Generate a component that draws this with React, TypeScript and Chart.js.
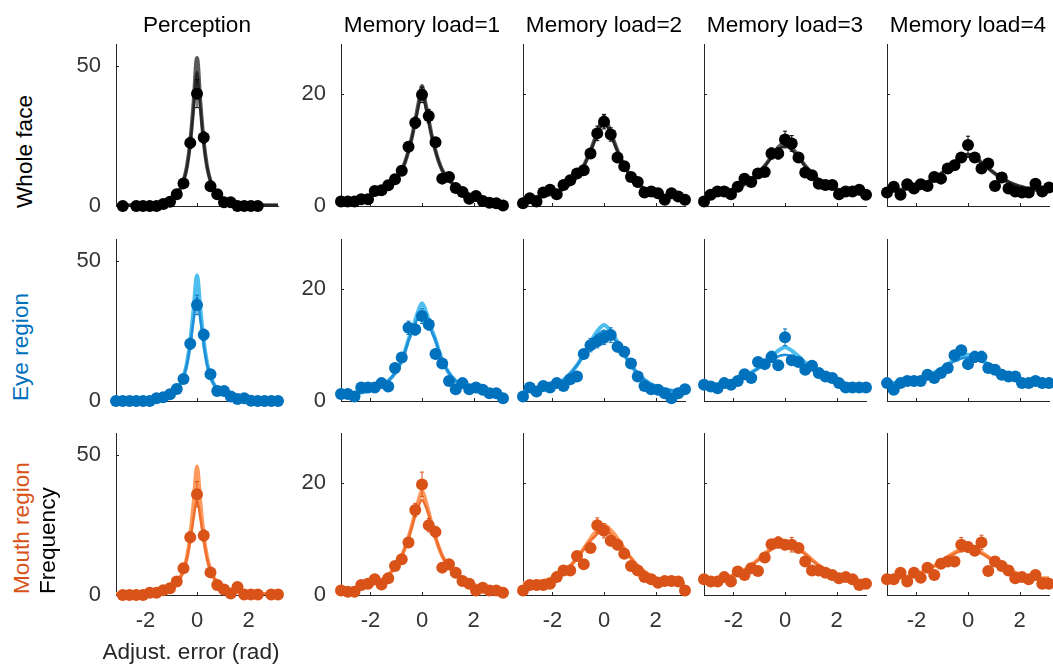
import React, { useEffect, useRef } from "react";
import { Chart, registerables } from "chart.js";
Chart.register(...registerables);

const FONT = '"Liberation Sans", Arial, Helvetica, sans-serif';
const AXIS_COLOR = "#262626";
const TICK_COLOR = "#333333";

const COLUMN_TITLES = ["Perception", "Memory load=1", "Memory load=2", "Memory load=3", "Memory load=4"];
const ROW_LABELS = ["Whole face", "Eye region", "Mouth region"];
const Y_LABEL = "Frequency";
const X_LABEL = "Adjust. error (rad)";

const X_MIN = -3.1416;
const X_MAX = 3.1416;
const X_TICKS = [-2, 0, 2];
const Y_TICKS_PERCEPTION = [0, 50];
const Y_TICKS_MEMORY = [0, 20];
const Y_MAX_PERCEPTION = 58;
const Y_MAX_MEMORY = 29;

// bin centres of the error histogram (rad)
const BIN_X = [-3.1416, -2.8798, -2.618, -2.3562, -2.0944, -1.8326, -1.5708, -1.309, -1.0472, -0.7854, -0.5236, -0.2618, 0,
  0.2618, 0.5236, 0.7854, 1.0472, 1.309, 1.5708, 1.8326, 2.0944, 2.3562, 2.618, 2.8798, 3.1416];
// x positions where the fitted curves were read
const CURVE_X = [-3.1416, -2.8798, -2.618, -2.3562, -2.0944, -1.8326, -1.5708, -1.309, -1.0472, -0.7854, -0.6545, -0.5236, -0.3927, -0.2618, -0.1309, 0,
  0.1309, 0.2618, 0.3927, 0.5236, 0.6545, 0.7854, 1.0472, 1.309, 1.5708, 1.8326, 2.0944, 2.3562, 2.618, 2.8798, 3.1416];

// ---- Whole face ----
const WF_PER = [null, 0, null, 0, 0, 0, 0, 0.7, 1.5, 4.2, 8.1, 22.6, 40.2, 24.5, 7.1, 4.2, 1.3, 1.3, 0, 0, 0, 0, null, null, null];
const WF_M1 = [0.8, 0.8, 0.8, 1.2, 1.2, 2.7, 2.8, 3.7, 4.8, 6.3, 10.6, 14.9, 19.9, 16.1, 11.4, 4.9, 5.2, 3.2, 2.5, 1.3, 1.8, 0.9, 0.6, 0.5, 0.1];
const WF_M2 = [0.5, 1.4, 0.8, 2.4, 2.9, 2.1, 3.75, 4.6, 5.8, 6.4, 9.4, 13, 15.1, 12.8, 8.7, 7.1, 5.2, 4.3, 2.4, 2.6, 2.3, 1.1, 2.3, 1.7, 1.1];
const WF_M3 = [0.8, 2.0, 2.6, 2.6, 2.1, 3.45, 4.9, 4.3, 5.8, 6.1, 9.4, 9.4, 11.9, 11.2, 8.7, 6.0, 5.5, 4.0, 3.75, 3.75, 2.1, 2.6, 2.6, 2.9, 2.0];
const WF_M4 = [2.4, 3.45, 2.0, 3.9, 3.15, 3.9, 3.6, 5.2, 4.9, 6.7, 7.3, 8.7, 10.9, 8.7, 6.7, 7.6, 3.6, 5.1, 3.15, 2.6, 2.4, 2.4, 4.0, 2.6, 3.3];
const WF_PER_ERR = [0, 0.3, 0, 0.3, 0.3, 0.3, 0.3, 0.4, 0.5, 0.8, 1.2, 2.0, 5.0, 2.0, 1.0, 0.7, 0.5, 0.5, 0.3, 0.3, 0.3, 0.3, 0, 0, 0];
const WF_M1_ERR = [0.3, 0.3, 0.3, 0.3, 0.3, 0.4, 0.4, 0.4, 0.5, 0.6, 0.8, 1.0, 1.4, 1.2, 0.8, 0.5, 0.5, 0.4, 0.4, 0.3, 0.3, 0.3, 0.3, 0.3, 0.3];
const WF_M2_ERR = [0.3, 0.4, 0.3, 0.4, 0.4, 0.4, 0.5, 0.5, 0.6, 0.7, 0.9, 1.3, 1.3, 1.2, 0.8, 0.7, 0.6, 0.5, 0.4, 0.4, 0.4, 0.3, 0.4, 0.3, 0.3];
const WF_M3_ERR = [0.3, 0.4, 0.4, 0.4, 0.4, 0.5, 0.6, 0.5, 0.6, 0.7, 1.0, 1.0, 1.5, 1.4, 0.8, 0.6, 0.6, 0.5, 0.5, 0.5, 0.4, 0.4, 0.4, 0.4, 0.4];
const WF_M4_ERR = [0.4, 0.5, 0.4, 0.5, 0.5, 0.5, 0.5, 0.6, 0.6, 0.7, 0.7, 0.8, 1.6, 0.8, 0.7, 0.7, 0.5, 0.6, 0.5, 0.4, 0.4, 0.4, 0.5, 0.4, 0.5];
const WF_PER_FIT_A = [0.3, 0.3, 0.3, 0.4, 0.5, 0.7, 1.0, 1.5, 2.4, 4.3, 6, 9, 14, 23, 37, 53, 37, 23, 14, 9, 6, 4.3, 2.4, 1.5, 1.0, 0.7, 0.5, 0.4, 0.3, 0.3, 0.3];
const WF_PER_FIT_B = [0.3, 0.3, 0.3, 0.4, 0.5, 0.7, 1.0, 1.5, 2.4, 4.3, 6, 8.9, 13.8, 22.5, 35, 48, 35, 22.5, 13.8, 8.9, 6, 4.3, 2.4, 1.5, 1.0, 0.7, 0.5, 0.4, 0.3, 0.3, 0.3];
const WF_M1_FIT_A = [0.7, 0.8, 1.0, 1.3, 1.7, 2.1, 2.7, 3.5, 4.6, 6.4, 7.9, 9.9, 12.3, 15.3, 18.5, 21.5, 18.5, 15.3, 12.3, 9.9, 7.9, 6.4, 4.6, 3.5, 2.7, 2.1, 1.7, 1.3, 1.0, 0.8, 0.7];
const WF_M1_FIT_B = [0.7, 0.8, 1.0, 1.3, 1.7, 2.1, 2.7, 3.5, 4.6, 6.4, 7.9, 9.8, 12.2, 15, 18, 20.5, 18, 15, 12.2, 9.8, 7.9, 6.4, 4.6, 3.5, 2.7, 2.1, 1.7, 1.3, 1.0, 0.8, 0.7];
const WF_M2_FIT_A = [1.4, 1.5, 1.6, 1.8, 2.1, 2.5, 3.1, 4.0, 5.3, 7.2, 8.5, 9.9, 11.5, 13.2, 14.8, 16, 14.8, 13.2, 11.5, 9.9, 8.5, 7.2, 5.3, 4.0, 3.1, 2.5, 2.1, 1.8, 1.6, 1.5, 1.4];
const WF_M2_FIT_B = [1.4, 1.5, 1.6, 1.8, 2.1, 2.5, 3.1, 4.0, 5.3, 7.1, 8.4, 9.8, 11.3, 12.8, 14.1, 15, 14.1, 12.8, 11.3, 9.8, 8.4, 7.1, 5.3, 4.0, 3.1, 2.5, 2.1, 1.8, 1.6, 1.5, 1.4];
const WF_M3_FIT_A = [2.3, 2.3, 2.4, 2.6, 2.9, 3.3, 3.9, 4.7, 5.8, 7.2, 8.0, 8.9, 9.7, 10.5, 11.1, 11.5, 11.1, 10.5, 9.7, 8.9, 8.0, 7.2, 5.8, 4.7, 3.9, 3.3, 2.9, 2.6, 2.4, 2.3, 2.3];
const WF_M3_FIT_B = [2.3, 2.3, 2.4, 2.6, 2.9, 3.3, 3.9, 4.7, 5.8, 7.1, 7.9, 8.7, 9.4, 10.0, 10.5, 10.8, 10.5, 10.0, 9.4, 8.7, 7.9, 7.1, 5.8, 4.7, 3.9, 3.3, 2.9, 2.6, 2.4, 2.3, 2.3];
const WF_M4_FIT_A = [2.8, 2.8, 2.9, 3.1, 3.4, 3.8, 4.3, 5.0, 5.8, 6.8, 7.3, 7.8, 8.3, 8.7, 9.0, 9.2, 9.0, 8.7, 8.3, 7.8, 7.3, 6.8, 5.8, 5.0, 4.3, 3.8, 3.4, 3.1, 2.9, 2.8, 2.8];
const WF_M4_FIT_B = [2.8, 2.8, 2.9, 3.1, 3.4, 3.8, 4.3, 5.0, 5.8, 6.7, 7.2, 7.7, 8.1, 8.4, 8.7, 8.8, 8.7, 8.4, 8.1, 7.7, 7.2, 6.7, 5.8, 5.0, 4.3, 3.8, 3.4, 3.1, 2.9, 2.8, 2.8];

// ---- Eye region ----
const EYE_PER = [0, 0, 0, 0, 0, 0, 1.0, 1.3, 2.4, 4.3, 7.9, 20.5, 34.4, 23.7, 9.6, 3.6, 3.6, 1.6, 0.7, 1.0, 0.1, 0, 0, 0, 0];
const EYE_M1 = [1.25, 1.25, 0.8, 2.4, 2.4, 2.4, 3.2, 2.6, 5.9, 7.8, 13.1, 12.8, 15.2, 13.7, 8.4, 6.7, 3.6, 2.1, 3.2, 2.1, 2.4, 2.0, 1.4, 1.4, 0.5];
const EYE_M2 = [0.8, 2.4, 1.7, 2.7, 2.4, 3.2, 2.7, 3.9, 4.4, 8.4, 10.0, 10.7, 11.3, 11.8, 9.7, 8.8, 6.7, 4.4, 2.7, 2.1, 2.0, 1.4, 0.5, 1.4, 2.1];
const EYE_M3 = [2.9, 2.6, 2.3, 3.2, 2.9, 3.6, 4.8, 4.1, 7.0, 6.6, 7.9, 6.4, 11.4, 7.3, 7.0, 5.6, 6.3, 5.0, 4.4, 4.1, 3.2, 2.4, 2.4, 2.4, 2.4];
const EYE_M4 = [3.2, 2.0, 3.2, 3.6, 3.6, 3.6, 4.7, 4.1, 5.0, 5.9, 8.2, 9.1, 6.6, 7.9, 7.9, 5.9, 5.6, 4.7, 4.4, 4.4, 3.2, 3.2, 3.6, 3.2, 3.2];
const EYE_PER_ERR = [0, 0, 0, 0, 0, 0, 0.3, 0.3, 0.4, 0.6, 1.0, 2.0, 3.5, 2.0, 1.0, 0.6, 0.6, 0.4, 0.3, 0.3, 0.2, 0, 0, 0, 0];
const EYE_M1_ERR = [0.3, 0.3, 0.3, 0.4, 0.4, 0.4, 0.5, 0.4, 0.6, 0.8, 1.2, 1.0, 1.3, 1.0, 0.8, 0.6, 0.5, 0.4, 0.5, 0.4, 0.4, 0.4, 0.3, 0.3, 0.3];
const EYE_M2_ERR = [0.3, 0.5, 0.4, 0.4, 0.4, 0.5, 0.4, 0.5, 0.6, 0.8, 1.2, 1.2, 1.2, 1.3, 0.9, 0.8, 0.7, 0.5, 0.4, 0.4, 0.4, 0.3, 0.3, 0.3, 0.4];
const EYE_M3_ERR = [0.4, 0.4, 0.4, 0.5, 0.4, 0.5, 0.6, 0.5, 0.7, 0.7, 1.0, 0.7, 1.5, 0.8, 0.7, 0.6, 0.6, 0.6, 0.5, 0.5, 0.4, 0.4, 0.4, 0.4, 0.4];
const EYE_M4_ERR = [0.4, 0.4, 0.4, 0.5, 0.5, 0.5, 0.5, 0.5, 0.6, 0.6, 0.8, 0.8, 0.7, 1.0, 1.0, 0.6, 0.6, 0.6, 0.5, 0.5, 0.4, 0.4, 0.5, 0.4, 0.4];
const EYE_PER_FIT_A = [0.3, 0.3, 0.3, 0.4, 0.5, 0.7, 1.0, 1.5, 2.4, 4.3, 6.0, 8.8, 13.5, 21.5, 33, 45, 33, 21.5, 13.5, 8.8, 6.0, 4.3, 2.4, 1.5, 1.0, 0.7, 0.5, 0.4, 0.3, 0.3, 0.3];
const EYE_PER_FIT_B = [0.3, 0.3, 0.3, 0.4, 0.5, 0.7, 1.0, 1.5, 2.4, 4.3, 6.0, 8.6, 13, 20, 29, 37, 29, 20, 13, 8.6, 6.0, 4.3, 2.4, 1.5, 1.0, 0.7, 0.5, 0.4, 0.3, 0.3, 0.3];
const EYE_M1_FIT_A = [1.1, 1.2, 1.3, 1.5, 1.8, 2.2, 2.8, 3.6, 5.0, 7.3, 9.0, 11.0, 12.6, 14.5, 16.3, 17.5, 16.3, 14.5, 12.6, 11.0, 9.0, 7.3, 5.0, 3.6, 2.8, 2.2, 1.8, 1.5, 1.3, 1.2, 1.1];
const EYE_M1_FIT_B = [1.1, 1.2, 1.3, 1.5, 1.8, 2.2, 2.8, 3.6, 5.0, 7.2, 8.9, 10.8, 12.2, 13.8, 15.2, 16, 15.2, 13.8, 12.2, 10.8, 8.9, 7.2, 5.0, 3.6, 2.8, 2.2, 1.8, 1.5, 1.3, 1.2, 1.1];
const EYE_M2_FIT_A = [1.7, 1.8, 1.9, 2.1, 2.5, 3.0, 3.8, 4.9, 6.4, 8.4, 9.5, 10.6, 11.6, 12.5, 13.2, 13.6, 13.2, 12.5, 11.6, 10.6, 9.5, 8.4, 6.4, 4.9, 3.8, 3.0, 2.5, 2.1, 1.9, 1.8, 1.7];
const EYE_M2_FIT_B = [1.7, 1.8, 1.9, 2.1, 2.5, 3.0, 3.8, 4.9, 6.4, 8.3, 9.4, 10.3, 11.1, 11.8, 12.3, 12.6, 12.3, 11.8, 11.1, 10.3, 9.4, 8.3, 6.4, 4.9, 3.8, 3.0, 2.5, 2.1, 1.9, 1.8, 1.7];
const EYE_M3_FIT_A = [2.8, 2.8, 2.9, 3.1, 3.4, 3.9, 4.4, 5.1, 5.9, 6.9, 7.4, 8.0, 8.5, 9.0, 9.4, 9.6, 9.4, 9.0, 8.5, 8.0, 7.4, 6.9, 5.9, 5.1, 4.4, 3.9, 3.4, 3.1, 2.9, 2.8, 2.8];
const EYE_M3_FIT_B = [2.8, 2.8, 2.9, 3.1, 3.4, 3.9, 4.4, 5.1, 5.8, 6.6, 7.0, 7.4, 7.7, 8.0, 8.2, 8.3, 8.2, 8.0, 7.7, 7.4, 7.0, 6.6, 5.8, 5.1, 4.4, 3.9, 3.4, 3.1, 2.9, 2.8, 2.8];
const EYE_M4_FIT_A = [3.2, 3.2, 3.3, 3.4, 3.7, 4.0, 4.5, 5.1, 5.8, 6.6, 7.0, 7.4, 7.7, 8.0, 8.2, 8.3, 8.2, 8.0, 7.7, 7.4, 7.0, 6.6, 5.8, 5.1, 4.5, 4.0, 3.7, 3.4, 3.3, 3.2, 3.2];
const EYE_M4_FIT_B = [3.2, 3.2, 3.3, 3.4, 3.7, 4.0, 4.5, 5.1, 5.7, 6.4, 6.8, 7.1, 7.3, 7.6, 7.7, 7.8, 7.7, 7.6, 7.3, 7.1, 6.8, 6.4, 5.7, 5.1, 4.5, 4.0, 3.7, 3.4, 3.3, 3.2, 3.2];

// ---- Mouth region ----
const MOU_PER = [null, 0, 0, 0, 0, 0.8, 0.8, 1.7, 2.4, 4.8, 9.6, 20.7, 36.1, 21.3, 8.1, 3.6, 2.0, 0.5, 2.9, 0.2, 0.2, 0.2, null, 0.2, 0.2];
const MOU_M1 = [0.8, 0.6, 0.6, 1.8, 2.0, 2.8, 1.9, 3.0, 5.2, 6.4, 9.4, 15.2, 19.8, 12.5, 11.3, 4.9, 5.5, 4.0, 2.5, 2.0, 0.8, 1.3, 0.8, 0.8, 0.4];
const MOU_M2 = [0.8, 1.8, 1.8, 1.8, 2.0, 3.2, 4.4, 4.4, 7.0, 5.5, 8.4, 12.5, 11.5, 9.7, 9.0, 7.4, 5.2, 4.4, 3.2, 2.8, 2.2, 2.5, 2.5, 2.4, 0.8];
const MOU_M3 = [2.8, 2.4, 2.4, 3.2, 2.4, 4.2, 3.6, 4.8, 4.3, 6.7, 9.1, 9.4, 9.0, 9.0, 8.4, 6.0, 4.4, 4.4, 4.0, 3.6, 3.0, 3.2, 2.8, 1.8, 2.0];
const MOU_M4 = [2.8, 2.8, 4.0, 2.4, 4.0, 3.1, 4.9, 3.6, 5.6, 6.0, 6.0, 9.0, 8.6, 7.9, 9.4, 4.3, 6.0, 5.2, 4.4, 3.0, 3.2, 2.8, 3.6, 2.0, 2.0];
const MOU_PER_ERR = [0, 0, 0, 0, 0, 0.3, 0.3, 0.4, 0.4, 0.6, 1.0, 2.0, 4.5, 2.0, 1.0, 0.5, 0.4, 0.3, 0.5, 0.2, 0.2, 0.2, 0, 0.2, 0.2];
const MOU_M1_ERR = [0.3, 0.3, 0.3, 0.4, 0.4, 0.4, 0.4, 0.5, 0.6, 0.7, 0.9, 1.2, 2.2, 1.2, 1.0, 0.6, 0.6, 0.5, 0.4, 0.4, 0.3, 0.3, 0.3, 0.3, 0.3];
const MOU_M2_ERR = [0.3, 0.4, 0.4, 0.4, 0.4, 0.5, 0.5, 0.5, 0.7, 0.6, 0.8, 1.3, 1.3, 0.9, 0.9, 0.8, 0.6, 0.5, 0.5, 0.4, 0.4, 0.4, 0.4, 0.4, 0.3];
const MOU_M3_ERR = [0.4, 0.4, 0.4, 0.5, 0.4, 0.5, 0.5, 0.5, 0.5, 0.7, 0.8, 1.0, 0.9, 1.3, 0.8, 0.6, 0.5, 0.5, 0.5, 0.5, 0.4, 0.4, 0.4, 0.3, 0.3];
const MOU_M4_ERR = [0.4, 0.4, 0.5, 0.4, 0.5, 0.5, 0.6, 0.5, 0.6, 0.7, 0.7, 1.3, 0.9, 0.8, 1.3, 0.6, 0.7, 0.6, 0.5, 0.4, 0.5, 0.4, 0.5, 0.4, 0.4];
const MOU_PER_FIT_A = [0.4, 0.4, 0.4, 0.5, 0.6, 0.8, 1.1, 1.6, 2.6, 4.5, 6.2, 9.0, 13.5, 21, 33, 46, 33, 21, 13.5, 9.0, 6.2, 4.5, 2.6, 1.6, 1.1, 0.8, 0.6, 0.5, 0.4, 0.4, 0.4];
const MOU_PER_FIT_B = [0.4, 0.4, 0.4, 0.5, 0.6, 0.8, 1.1, 1.6, 2.6, 4.5, 6.1, 8.8, 13, 19.5, 27.5, 34, 27.5, 19.5, 13, 8.8, 6.1, 4.5, 2.6, 1.6, 1.1, 0.8, 0.6, 0.5, 0.4, 0.4, 0.4];
const MOU_M1_FIT_A = [1.0, 1.0, 1.2, 1.4, 1.7, 2.1, 2.7, 3.6, 4.9, 7.0, 8.5, 10.3, 12.4, 14.8, 17, 18.6, 17, 14.8, 12.4, 10.3, 8.5, 7.0, 4.9, 3.6, 2.7, 2.1, 1.7, 1.4, 1.2, 1.0, 1.0];
const MOU_M1_FIT_B = [1.0, 1.0, 1.2, 1.4, 1.7, 2.1, 2.7, 3.6, 4.9, 7.0, 8.5, 10.2, 12.2, 14.3, 16, 17, 16, 14.3, 12.2, 10.2, 8.5, 7.0, 4.9, 3.6, 2.7, 2.1, 1.7, 1.4, 1.2, 1.0, 1.0];
const MOU_M2_FIT_A = [2.1, 2.1, 2.3, 2.5, 2.9, 3.4, 4.2, 5.2, 6.6, 8.3, 9.2, 10.1, 10.9, 11.6, 12.2, 12.5, 12.2, 11.6, 10.9, 10.1, 9.2, 8.3, 6.6, 5.2, 4.2, 3.4, 2.9, 2.5, 2.3, 2.1, 2.1];
const MOU_M2_FIT_B = [2.1, 2.1, 2.3, 2.5, 2.9, 3.4, 4.2, 5.2, 6.6, 8.2, 9.0, 9.7, 10.3, 10.9, 11.3, 11.5, 11.3, 10.9, 10.3, 9.7, 9.0, 8.2, 6.6, 5.2, 4.2, 3.4, 2.9, 2.5, 2.3, 2.1, 2.1];
const MOU_M3_FIT_A = [2.6, 2.6, 2.8, 3.0, 3.4, 3.9, 4.5, 5.3, 6.3, 7.4, 7.9, 8.4, 8.8, 9.1, 9.3, 9.4, 9.3, 9.1, 8.8, 8.4, 7.9, 7.4, 6.3, 5.3, 4.5, 3.9, 3.4, 3.0, 2.8, 2.6, 2.6];
const MOU_M3_FIT_B = [2.6, 2.6, 2.8, 3.0, 3.4, 3.9, 4.5, 5.3, 6.2, 7.3, 7.7, 8.1, 8.5, 8.7, 8.9, 9.0, 8.9, 8.7, 8.5, 8.1, 7.7, 7.3, 6.2, 5.3, 4.5, 3.9, 3.4, 3.0, 2.8, 2.6, 2.6];
const MOU_M4_FIT_A = [3.0, 3.0, 3.1, 3.3, 3.6, 4.0, 4.6, 5.2, 6.0, 6.8, 7.2, 7.6, 7.9, 8.2, 8.4, 8.5, 8.4, 8.2, 7.9, 7.6, 7.2, 6.8, 6.0, 5.2, 4.6, 4.0, 3.6, 3.3, 3.1, 3.0, 3.0];
const MOU_M4_FIT_B = [3.0, 3.0, 3.1, 3.3, 3.6, 4.0, 4.6, 5.2, 5.9, 6.7, 7.1, 7.4, 7.7, 7.9, 8.0, 8.1, 8.0, 7.9, 7.7, 7.4, 7.1, 6.7, 5.9, 5.2, 4.6, 4.0, 3.6, 3.3, 3.1, 3.0, 3.0];

const DATA = [
  [WF_PER, WF_M1, WF_M2, WF_M3, WF_M4],
  [EYE_PER, EYE_M1, EYE_M2, EYE_M3, EYE_M4],
  [MOU_PER, MOU_M1, MOU_M2, MOU_M3, MOU_M4],
];
const ERRS = [
  [WF_PER_ERR, WF_M1_ERR, WF_M2_ERR, WF_M3_ERR, WF_M4_ERR],
  [EYE_PER_ERR, EYE_M1_ERR, EYE_M2_ERR, EYE_M3_ERR, EYE_M4_ERR],
  [MOU_PER_ERR, MOU_M1_ERR, MOU_M2_ERR, MOU_M3_ERR, MOU_M4_ERR],
];
const FIT_A = [
  [WF_PER_FIT_A, WF_M1_FIT_A, WF_M2_FIT_A, WF_M3_FIT_A, WF_M4_FIT_A],
  [EYE_PER_FIT_A, EYE_M1_FIT_A, EYE_M2_FIT_A, EYE_M3_FIT_A, EYE_M4_FIT_A],
  [MOU_PER_FIT_A, MOU_M1_FIT_A, MOU_M2_FIT_A, MOU_M3_FIT_A, MOU_M4_FIT_A],
];
const FIT_B = [
  [WF_PER_FIT_B, WF_M1_FIT_B, WF_M2_FIT_B, WF_M3_FIT_B, WF_M4_FIT_B],
  [EYE_PER_FIT_B, EYE_M1_FIT_B, EYE_M2_FIT_B, EYE_M3_FIT_B, EYE_M4_FIT_B],
  [MOU_PER_FIT_B, MOU_M1_FIT_B, MOU_M2_FIT_B, MOU_M3_FIT_B, MOU_M4_FIT_B],
];

const ROW_STYLES = [
  { label: "#000000", marker: "#000000", fitA: "#5a5a5a", fitB: "#262626" },
  { label: "#0072BD", marker: "#0072BD", fitA: "#4DBEEE", fitB: "#1E8FD8" },
  { label: "#D95319", marker: "#D95319", fitA: "#FF9A5E", fitB: "#EF6F2E" },
];

// layout (pixels)
const COL_LEFT = [116, 341, 523, 704, 887];
const ROW_TOP = [44, 239, 433];
const PLOT_W = 162;
const PLOT_H = 162;
const YW = 60;
const PT = 10;
const PR = 10;
const FONT_SIZE = 22.6;
const TICK_FONT_SIZE = 22;

function Panel({ row, col }: { row: number; col: number }) {
  const ref = useRef<HTMLCanvasElement | null>(null);
  const xh = row === 2 ? 50 : 22;
  const w = YW + PLOT_W + PR;
  const h = PT + PLOT_H + xh;
  const left = COL_LEFT[col] - YW;
  const top = ROW_TOP[row] - PT;

  useEffect(() => {
    const st = ROW_STYLES[row];
    const vals = DATA[row][col];
    const errs = ERRS[row][col];
    const fa = FIT_A[row][col];
    const fb = FIT_B[row][col];
    const yMax = col === 0 ? Y_MAX_PERCEPTION : Y_MAX_MEMORY;
    const yTicks = col === 0 ? Y_TICKS_PERCEPTION : Y_TICKS_MEMORY;

    const decor = {
      id: "decor",
      beforeDatasetsDraw(chart: any) {
        const { ctx, chartArea } = chart;
        const xs = chart.scales.x;
        const ys = chart.scales.y;
        ctx.save();
        ctx.strokeStyle = AXIS_COLOR;
        ctx.lineWidth = 1;
        ctx.beginPath();
        X_TICKS.forEach((v) => {
          const px = Math.round(xs.getPixelForValue(v)) + 0.5;
          ctx.moveTo(px, chartArea.bottom);
          ctx.lineTo(px, chartArea.bottom - 3);
        });
        yTicks.forEach((v) => {
          if (v === 0) return;
          const py = Math.round(ys.getPixelForValue(v)) + 0.5;
          ctx.moveTo(chartArea.left, py);
          ctx.lineTo(chartArea.left + 3, py);
        });
        ctx.stroke();
        ctx.restore();
      },
      beforeDatasetDraw(chart: any, args: any) {
        if (args.index !== 0) return;
        const { ctx } = chart;
        const xs = chart.scales.x;
        const ys = chart.scales.y;
        ctx.save();
        ctx.strokeStyle = st.marker;
        ctx.lineWidth = 1;
        ctx.beginPath();
        vals.forEach((v: number | null, i: number) => {
          if (v == null) return;
          const e = errs[i];
          if (!e) return;
          const px = xs.getPixelForValue(BIN_X[i]);
          const pt = ys.getPixelForValue(v + e);
          const pb = ys.getPixelForValue(Math.max(0, v - e));
          ctx.moveTo(px, pt);
          ctx.lineTo(px, pb);
          ctx.moveTo(px - 2, pt);
          ctx.lineTo(px + 2, pt);
          ctx.moveTo(px - 2, pb);
          ctx.lineTo(px + 2, pb);
        });
        ctx.stroke();
        ctx.restore();
      },
    };

    const tickFont = { family: FONT, size: TICK_FONT_SIZE };
    const chart = new Chart(ref.current as HTMLCanvasElement, {
      type: "scatter",
      data: {
        datasets: [
          {
            data: BIN_X.map((x, i) => ({ x, y: vals[i] })),
            showLine: false,
            pointRadius: 6,
            pointHoverRadius: 6,
            pointBackgroundColor: st.marker,
            pointBorderWidth: 0,
            borderWidth: 0,
            clip: false,
          } as any,
          {
            type: "line",
            data: CURVE_X.map((x, i) => ({ x, y: fb[i] })),
            showLine: true,
            borderColor: st.fitB,
            borderWidth: 2.5,
            pointRadius: 0,
            cubicInterpolationMode: "monotone",
            fill: false,
          } as any,
          {
            type: "line",
            data: CURVE_X.map((x, i) => ({ x, y: fa[i] })),
            showLine: true,
            borderColor: st.fitA,
            borderWidth: 4,
            pointRadius: 0,
            cubicInterpolationMode: "monotone",
            fill: false,
          } as any,
        ],
      },
      options: {
        responsive: false,
        maintainAspectRatio: false,
        animation: false,
        events: [],
        layout: { padding: { left: 0, right: PR, top: PT, bottom: 0 } },
        plugins: { legend: { display: false }, tooltip: { enabled: false }, title: { display: false } },
        scales: {
          x: {
            type: "linear",
            min: X_MIN,
            max: X_MAX,
            afterBuildTicks: (s: any) => {
              s.ticks = X_TICKS.map((v) => ({ value: v }));
            },
            afterFit: (s: any) => {
              s.height = xh;
              s.paddingLeft = 0;
              s.paddingRight = 0;
              s.paddingTop = 0;
              s.paddingBottom = 0;
            },
            grid: { display: false, drawTicks: false },
            border: { display: true, color: AXIS_COLOR, width: 1 },
            ticks: {
              display: row === 2,
              padding: 13,
              color: TICK_COLOR,
              font: tickFont,
              maxRotation: 0,
              autoSkip: false,
              callback: (v: any) => String(v),
            },
          },
          y: {
            type: "linear",
            min: 0,
            max: yMax,
            afterBuildTicks: (s: any) => {
              s.ticks = yTicks.map((v) => ({ value: v }));
            },
            afterFit: (s: any) => {
              s.width = YW;
              s.paddingLeft = 0;
              s.paddingRight = 0;
              s.paddingTop = 0;
              s.paddingBottom = 0;
            },
            grid: { display: false, drawTicks: false },
            border: { display: true, color: AXIS_COLOR, width: 1 },
            ticks: {
              display: col <= 1,
              padding: 15,
              color: TICK_COLOR,
              font: tickFont,
              autoSkip: false,
              callback: (v: any) => String(v),
            },
          },
        },
      } as any,
      plugins: [decor as any],
    });
    return () => chart.destroy();
  }, [row, col]);

  return (
    <canvas
      ref={ref}
      width={w}
      height={h}
      style={{ position: "absolute", left, top, width: w, height: h, display: "block" }}
    />
  );
}

export default function App() {
  const textBase: React.CSSProperties = {
    position: "absolute",
    fontFamily: FONT,
    fontSize: FONT_SIZE,
    lineHeight: "22px",
    whiteSpace: "nowrap",
  };
  const rowLabelPos = [
    { left: 14, top: 208 },
    { left: 10, top: 401 },
    { left: 11, top: 594 },
  ];
  const panels: JSX.Element[] = [];
  for (let r = 0; r < 3; r++) {
    for (let c = 0; c < 5; c++) {
      panels.push(<Panel key={`${r}-${c}`} row={r} col={c} />);
    }
  }
  return (
    <div
      style={{
        position: "absolute",
        left: 0,
        top: 0,
        width: 1053,
        height: 666,
        background: "#ffffff",
        overflow: "hidden",
      }}
    >
      {panels}
      {COLUMN_TITLES.map((t, c) => (
        <div key={t} style={{ ...textBase, left: COL_LEFT[c] - 25, width: PLOT_W + 50, top: 14, textAlign: "center", color: "#000" }}>
          {t}
        </div>
      ))}
      {ROW_LABELS.map((t, r) => (
        <div
          key={t}
          style={{
            ...textBase,
            left: rowLabelPos[r].left,
            top: rowLabelPos[r].top,
            color: ROW_STYLES[r].label,
            transformOrigin: "0 0",
            transform: "rotate(-90deg)",
          }}
        >
          {t}
        </div>
      ))}
      <div
        style={{
          ...textBase,
          left: 37,
          top: 594,
          color: "#000",
          transformOrigin: "0 0",
          transform: "rotate(-90deg)",
        }}
      >
        {Y_LABEL}
      </div>
      <div style={{ ...textBase, left: 91, width: 200, top: 641, textAlign: "center", color: AXIS_COLOR }}>{X_LABEL}</div>
    </div>
  );
}
